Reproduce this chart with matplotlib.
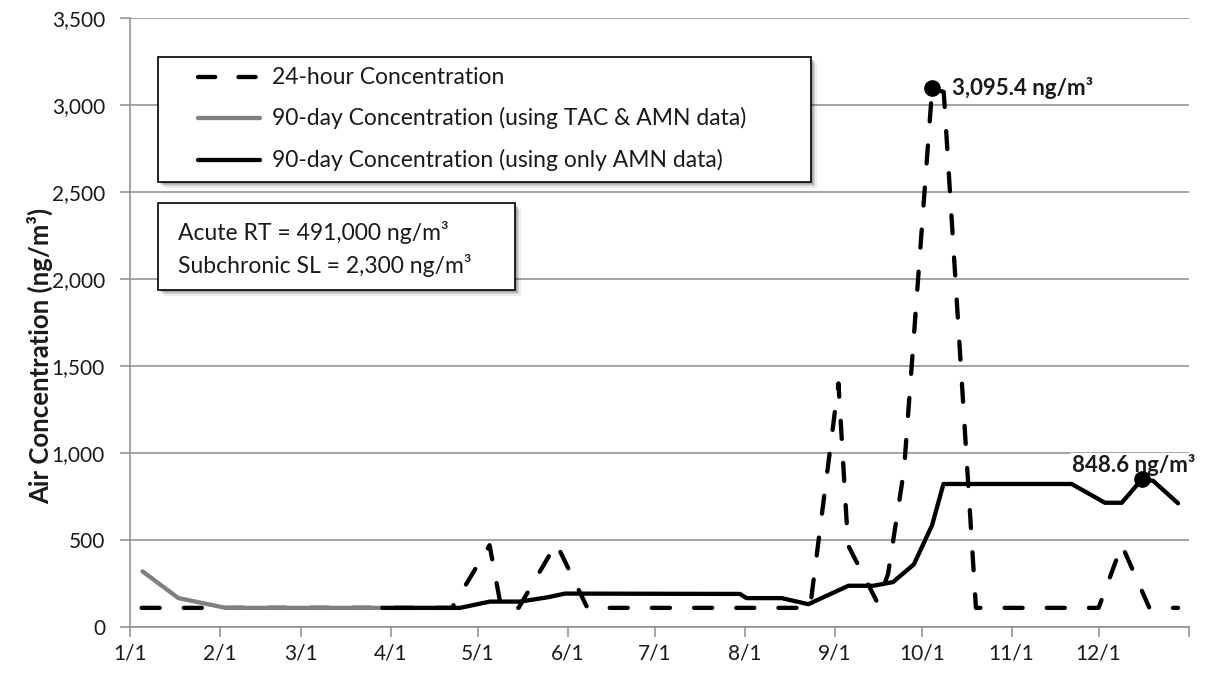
import matplotlib
matplotlib.use("Agg")
import matplotlib.pyplot as plt
from matplotlib.patches import Rectangle
from matplotlib.lines import Line2D

plt.rcParams['font.family'] = ['Lato', 'DejaVu Sans']

# x values are days since 1/1
day_24h = [4, 111, 124, 128, 134, 147, 157.7, 234.5, 244.3, 247.6, 257.8, 261.4,
           266.9, 276.6, 280.6, 291.7, 334, 342, 351.5, 361.4]
conc_24h = [110, 110, 470, 110, 110, 480, 110, 110, 1400, 470, 138, 305,
            902, 3095.4, 3075, 110, 110, 471, 110, 110]

day_tac = [4.3, 16.7, 33, 87]
conc_tac = [320, 166, 110, 110]

day_amn = [87, 113.8, 124.1, 134.5, 144.1, 150, 210.3, 212.6, 224.7, 233.9, 247.7,
           256.3, 263.1, 270.3, 276.6, 280.5, 324.7, 336.2, 342, 348.9, 352.8, 361.4]
conc_amn = [110, 110, 146, 146, 171, 192, 190, 166, 166, 131, 237,
            237, 258, 360, 586, 822, 822, 714, 714, 848.6, 840, 711]

month_days = [0, 31, 59, 90, 120, 151, 181, 212, 243, 273, 304, 334, 365]
month_labels = ['1/1', '2/1', '3/1', '4/1', '5/1', '6/1', '7/1', '8/1', '9/1',
                '10/1', '11/1', '12/1', '']

max_24h = (276.6, 3095.4)
max_amn = (348.9, 848.6)

legend_labels = ['24-hour Concentration',
                 '90-day Concentration (using TAC & AMN data)',
                 '90-day Concentration (using only AMN data)']
note_lines = ['Acute RT = 491,000 ng/m\u00b3', 'Subchronic SL = 2,300 ng/m\u00b3']

W, H = 1214, 677
GRID = '#8c8c8c'
TXT = '#1a1a1a'
FS_TICK = 15
FS_BOX = 16.5
FS_LAB = 16


def fx(x):
    return x / W


def fy(y):
    return 1 - y / H


fig = plt.figure(figsize=(W / 100, H / 100), dpi=100)
ax = fig.add_axes([fx(130), fy(627), (1188.5 - 130) / W, (627 - 18) / H])

lw = 3.1
dash = (4.2, 5.6)
ax.plot(day_24h, conc_24h, color='black', lw=lw, dashes=dash,
        dash_capstyle='round', solid_joinstyle='round', zorder=3)
ax.plot(day_tac, conc_tac, color='#808080', lw=lw, solid_capstyle='round',
        solid_joinstyle='round', zorder=4)
ax.plot(day_amn, conc_amn, color='black', lw=lw, solid_capstyle='round',
        solid_joinstyle='round', zorder=5)

# max markers + labels (markers drawn over the label background)
ax.plot(*max_24h, 'o', color='black', ms=11, zorder=8)
ax.plot(*max_amn, 'o', color='black', ms=11, zorder=8)
ax.annotate('3,095.4 ng/m\u00b3', xy=max_24h, xytext=(14, 0), textcoords='offset points',
            ha='left', va='center', fontsize=FS_LAB, fontweight='bold', color=TXT, zorder=7)
ax.annotate('848.6 ng/m\u00b3', xy=max_amn, xytext=(-6, 10), textcoords='offset points',
            ha='center', va='center', fontsize=FS_LAB, fontweight='bold', color=TXT, zorder=7,
            bbox=dict(facecolor='white', edgecolor='none', pad=1))

ax.set_xlim(0, 365)
ax.set_ylim(0, 3500)
ax.set_xticks(month_days)
ax.set_xticklabels(month_labels)
ax.set_yticks(range(0, 3501, 500))
ax.set_yticklabels([f'{v:,}' for v in range(0, 3501, 500)])
ax.tick_params(axis='both', colors=GRID, labelcolor=TXT, labelsize=FS_TICK, length=7, width=1.1)
ax.tick_params(axis='y', pad=11)
ax.tick_params(axis='x', pad=5)
ax.grid(axis='y', color=GRID, lw=1.1)
ax.set_axisbelow(True)
for s in ['top', 'right']:
    ax.spines[s].set_visible(False)
for s in ['left', 'bottom']:
    ax.spines[s].set_color(GRID)
    ax.spines[s].set_linewidth(1.1)

fig.text(fx(40), fy(356), 'Air Concentration (ng/m\u00b3)', rotation=90, ha='center',
         va='center', fontsize=18.5, fontweight='bold', color=TXT)


def box_with_shadow(x0, y0, x1, y1):
    # soft drop shadow, then the white box
    for i, a in enumerate([0.10, 0.10, 0.10, 0.08]):
        off = 2 + i * 1.2
        fig.patches.append(Rectangle((fx(x0 + off), fy(y1 + off)), (x1 - x0) / W,
                                     (y1 - y0) / H, transform=fig.transFigure,
                                     facecolor='black', edgecolor='none', alpha=a, zorder=8))
    fig.patches.append(Rectangle((fx(x0), fy(y1)), (x1 - x0) / W, (y1 - y0) / H,
                                 transform=fig.transFigure, facecolor='white',
                                 edgecolor='black', lw=1.2, zorder=9))


# legend
box_with_shadow(158, 57, 811, 182)
rows_y = [77, 118, 160]
styles = [dict(color='black', dashes=(4.0, 5.4), dash_capstyle='round'),
          dict(color='#808080', solid_capstyle='round'),
          dict(color='black', solid_capstyle='round')]
for y, lab, st in zip(rows_y, legend_labels, styles):
    fig.lines.append(Line2D([fx(198), fx(260)], [fy(y), fy(y)], transform=fig.transFigure,
                            lw=lw, zorder=10, **st))
    fig.text(fx(272), fy(y), lab, ha='left', va='center', fontsize=FS_BOX, color=TXT, zorder=10)

# note box
box_with_shadow(158, 203, 515, 290)
for y, line in zip([232, 265], note_lines):
    fig.text(fx(178), fy(y), line, ha='left', va='center', fontsize=FS_BOX, color=TXT, zorder=10)

fig.savefig('out.png', dpi=100)
